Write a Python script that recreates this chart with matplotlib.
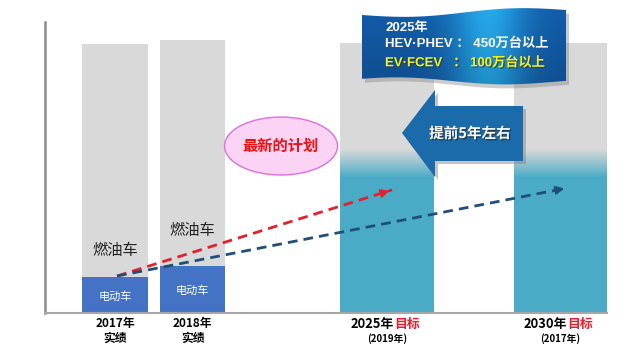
import numpy as np
import matplotlib.pyplot as plt
from matplotlib.patches import Polygon, Ellipse
import matplotlib.patheffects as pe

plt.rcParams['font.family'] = ['Noto Sans CJK SC', 'DejaVu Sans']

# 数据
years = ['2017年', '2018年', '2025年', '2030年']
sublabels = ['实绩', '实绩', '(2019年)', '(2017年)']
total = [99.6, 101.1, 100.0, 100.0]      # 全部车辆
ev = [13.3, 17.4, 50.0, 50.0]            # 电动车部分
fade_to = 60.5                           # 渐变上沿
trend_start = [72, 13.7]
trend_red_end = [347, 45.6]
trend_blue_end = [522, 46.3]

gray = '#d9d9d9'
blue = '#4472c4'
teal = '#4aabc7'

fig = plt.figure(figsize=(6.4, 3.5), dpi=100)
ax = fig.add_axes([45 / 640, 37 / 350, 595 / 640, 291 / 350])
ax.set_xlim(0, 595)
ax.set_ylim(0, 107.8)

xpos = [70, 147.5, 342, 515.5]
widths = [66, 65, 94, 93]

ax.bar(xpos, total, width=widths, color=gray, zorder=1)
ax.bar(xpos[:2], ev[:2], width=widths[:2], color=blue, zorder=2)
ax.bar(xpos[2:], ev[2:], width=widths[2:], color=teal, zorder=2)

# 目标柱的渐变
c1 = np.array([0xd9, 0xd9, 0xd9]) / 255
c2 = np.array([0x4a, 0xab, 0xc7]) / 255
t = np.linspace(0, 1, 64)[:, None]
grad = (c2 * (1 - t) + c1 * t)[:, None, :]
for x, w, e in zip(xpos[2:], widths[2:], ev[2:]):
    ax.imshow(grad, extent=[x - w / 2, x + w / 2, e, fade_to], origin='lower',
              aspect='auto', zorder=2, interpolation='bilinear')
ax.set_xlim(0, 595)
ax.set_ylim(0, 107.8)

for s in ['top', 'right']:
    ax.spines[s].set_visible(False)
ax.spines['left'].set_color('#8c8c8c')
ax.spines['left'].set_linewidth(1.8)
ax.spines['bottom'].set_color('#a6a6a6')
ax.spines['bottom'].set_linewidth(1.5)
ax.spines['bottom'].set_bounds(0, 562)
ax.set_xticks([])
ax.set_yticks([])

# 标签
ax.text(xpos[0], 23, '燃油车', ha='center', va='center', fontsize=11, color='#222222', zorder=3)
ax.text(xpos[1], 30.5, '燃油车', ha='center', va='center', fontsize=11, color='#222222', zorder=3)
for x, e in zip(xpos[:2], ev[:2]):
    ax.text(x, e / 2 - 0.5, '电动车', ha='center', va='center', fontsize=8, color='white', zorder=3)

# 趋势虚线
for end, col in [(trend_red_end, '#e3202b'), (trend_blue_end, '#1f4e79')]:
    ax.plot([trend_start[0], end[0]], [trend_start[1], end[1]], color=col, lw=2,
            dashes=(3.5, 2.2), zorder=4)
    dx = end[0] - trend_start[0]
    dy = end[1] - trend_start[1]
    back = [end[0] - dx * 0.02, end[1] - dy * 0.02]
    ax.annotate('', xy=end, xytext=back, zorder=5,
                arrowprops=dict(arrowstyle='-|>', color=col, lw=1.5, mutation_scale=12))

# 叠加层（像素坐标）
ov = fig.add_axes([0, 0, 1, 1], facecolor='none')
ov.set_xlim(0, 640)
ov.set_ylim(350, 0)
ov.axis('off')

# x 轴标签
lab_kw = dict(ha='center', va='center', fontsize=8.5, fontweight='bold', color='black')
for i in range(2):
    px = xpos[i] + 45
    ov.text(px, 324, years[i], **lab_kw)
    ov.text(px, 338, sublabels[i], **lab_kw)
for i, split in zip([2, 3], [394, 567]):
    px = xpos[i] + 45
    ov.text(split, 324, years[i], ha='right', va='center', fontsize=9.3,
            fontweight='bold', color='black')
    ov.text(split, 324, '目标', ha='left', va='center', fontsize=9.3,
            fontweight='bold', color='#e3202b')
    ov.text(px, 339, sublabels[i], ha='center', va='center', fontsize=7,
            fontweight='bold', color='black')

# 椭圆
ov.add_patch(Ellipse((281, 146), 113, 58, facecolor='#fbd3f4', edgecolor='#e06ee0',
                     lw=1, zorder=3))
ov.text(281, 146, '最新的计划', ha='center', va='center', fontsize=11, fontweight='bold',
        color='#ee1111', zorder=4)

# 左向箭头
arrow_pts = [(402, 133), (435, 90), (435, 106), (523, 106), (523, 161), (435, 161), (435, 177)]
shadow = [(x + 3, y + 3) for x, y in arrow_pts]
ov.add_patch(Polygon(shadow, closed=True, facecolor='#7f7f7f', alpha=0.45, lw=0, zorder=3))
ov.add_patch(Polygon(arrow_pts, closed=True, facecolor='#1b6aa9', edgecolor='none', zorder=4))
ov.text(470, 133, '提前5年左右', ha='center', va='center', fontsize=10.5, fontweight='bold',
        color='white', zorder=5,
        path_effects=[pe.withSimplePatchShadow(offset=(1, -1), shadow_rgbFace='#222222', alpha=0.6)])

# 飘带
xs = np.linspace(362, 566, 60)
top = 15 + 3 * np.sin((xs - 362) / 204 * 2 * np.pi) - 5 * (xs - 362) / 204
bot = 80 - 3 * np.sin((xs - 362) / 204 * 2 * np.pi + 0.4) + 2 * (xs - 362) / 204
verts = list(zip(xs, top)) + list(zip(xs[::-1], bot[::-1]))
sh = Polygon([(x + 3, y + 4) for x, y in verts], closed=True, facecolor='#808080',
             alpha=0.4, lw=0, zorder=5)
ov.add_patch(sh)
flag = Polygon(verts, closed=True, facecolor='none', edgecolor='none', zorder=6)
ov.add_patch(flag)
u = np.linspace(0, 1, 200)
dark = np.array([0x12, 0x5c, 0xaa]) / 255
light = np.array([0x25, 0xa9, 0xec]) / 255
w = np.exp(-((u - 0.62) / 0.18) ** 2)
band = dark * (1 - w[:, None]) + light * w[:, None]
vert = np.linspace(1.0, 0.85, 40)[:, None, None]
img = band[None, :, :] * vert
im = ov.imshow(np.clip(img, 0, 1), extent=[362, 566, 85, 8], aspect='auto',
               zorder=6, interpolation='bilinear')
im.set_clip_path(flag)
ov.set_xlim(0, 640)
ov.set_ylim(350, 0)

txt_kw = dict(ha='left', va='center', fontsize=9.5, fontweight='bold', zorder=7,
              family=['Liberation Sans', 'Noto Sans CJK SC'])
ov.text(385, 28, '2025年', color='white', **txt_kw)
ov.text(385, 44, 'HEV·PHEV ： 450万台以上', color='white', **txt_kw)
ov.text(385, 63, 'EV·FCEV   ： 100万台以上', color='#f2f21e',
        path_effects=[pe.withSimplePatchShadow(offset=(1, -1), shadow_rgbFace='#333333', alpha=0.6)],
        **txt_kw)

fig.savefig('out.png', dpi=100)
